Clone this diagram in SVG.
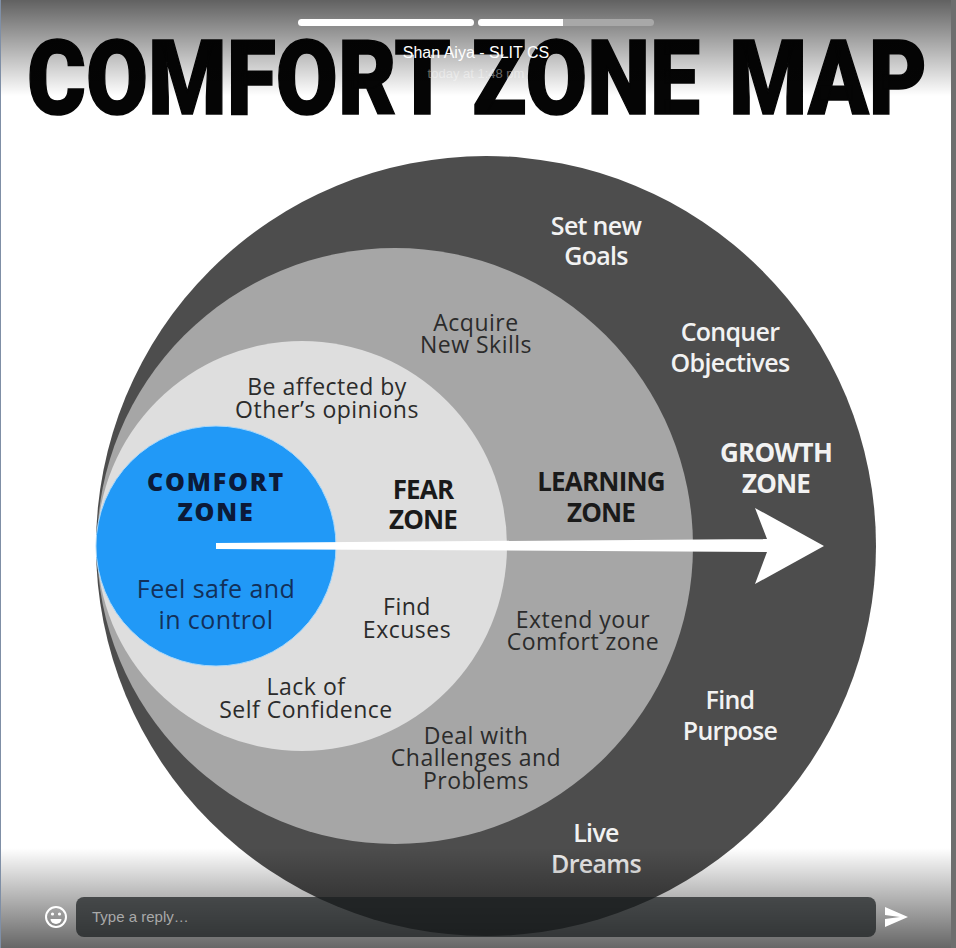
<svg xmlns="http://www.w3.org/2000/svg" width="956" height="948" viewBox="0 0 956 948">
<style>
text{font-family:"Open Sans","Liberation Sans",sans-serif;text-anchor:middle}
.t{font-family:Roboto,"Liberation Sans",Arial,sans-serif;font-weight:900;font-size:104px;fill:#050505;stroke:#050505;stroke-width:1.500px;stroke-linejoin:miter;text-anchor:start}
.d{font-size:23px;fill:#2b2b2b;letter-spacing:.5px}
.w{font-size:25px;fill:#f2f2f2;font-weight:600;letter-spacing:-.7px}
.h{font-size:26px;font-weight:700;letter-spacing:-.8px}
.c{font-size:25px;font-weight:800;letter-spacing:1.800px;fill:#0c1a38}
.f{font-size:25px;fill:#12305a;letter-spacing:.4px}
.ui{font-family:"Liberation Sans",Arial,sans-serif}
</style>
<defs>
<linearGradient id="top" x1="0" y1="0" x2="0" y2="1"><stop offset="0" stop-color="#000" stop-opacity=".62"/><stop offset="1" stop-color="#000" stop-opacity="0"/></linearGradient>
<linearGradient id="bot" x1="0" y1="0" x2="0" y2="1"><stop offset="0" stop-color="#000" stop-opacity="0"/><stop offset="1" stop-color="#000" stop-opacity=".6"/></linearGradient>
</defs>
<rect width="956" height="948" fill="#fff"/>
<text x="27" y="114" class="t" textLength="424" lengthAdjust="spacingAndGlyphs">COMFORT</text>
<text x="472" y="114" class="t" textLength="228" lengthAdjust="spacingAndGlyphs">ZONE</text>
<text x="729" y="114" class="t" textLength="198" lengthAdjust="spacingAndGlyphs">MAP</text>
<g id="growth-zone"><circle cx="486" cy="546" r="390" fill="#4d4d4d"/>
<text class="w" x="596" y="235">Set new</text><text class="w" x="596" y="265">Goals</text>
<text class="w" x="730" y="341">Conquer</text><text class="w" x="730" y="372">Objectives</text>
<text class="h" x="776" y="462" fill="#f2f2f2">GROWTH</text><text class="h" x="776" y="493" fill="#f2f2f2">ZONE</text>
<text class="w" x="730" y="709">Find</text><text class="w" x="730" y="740">Purpose</text>
<text class="w" x="596" y="842">Live</text><text class="w" x="596" y="873">Dreams</text></g>
<g id="learning-zone"><circle cx="395" cy="546" r="298" fill="#a6a6a6"/>
<text class="d" x="476" y="331">Acquire</text><text class="d" x="476" y="353">New Skills</text>
<text class="h" x="601" y="491" fill="#1a1a1a">LEARNING</text><text class="h" x="601" y="522" fill="#1a1a1a">ZONE</text>
<text class="d" x="583" y="628">Extend your</text><text class="d" x="583" y="650">Comfort zone</text>
<text class="d" x="476" y="744">Deal with</text><text class="d" x="476" y="766">Challenges and</text><text class="d" x="476" y="789">Problems</text></g>
<g id="fear-zone"><circle cx="302" cy="546" r="205" fill="#dedede"/>
<text class="d" x="327" y="395">Be affected by</text><text class="d" x="327" y="418">Other’s opinions</text>
<text class="h" x="423" y="499" fill="#1a1a1a">FEAR</text><text class="h" x="423" y="529" fill="#1a1a1a">ZONE</text>
<text class="d" x="407" y="615">Find</text><text class="d" x="407" y="638">Excuses</text>
<text class="d" x="306" y="695">Lack of</text><text class="d" x="306" y="718">Self Confidence</text></g>
<g id="comfort-zone"><circle cx="216" cy="546" r="120" fill="#2199f7" stroke="#a8d8fb" stroke-width="1"/>
<text class="c" x="216" y="491">COMFORT</text><text class="c" x="216" y="521">ZONE</text>
<text class="f" x="216" y="598">Feel safe and</text><text class="f" x="216" y="629">in control</text></g>
<g id="connectors"><polygon points="216,543 767,539 755,508 824,546 755,584 767,552 216,549" fill="#fff"/></g>
<g id="overlay">
<rect width="956" height="96" fill="url(#top)"/>
<rect y="848" width="956" height="100" fill="url(#bot)"/>
<rect x="951" width="5" height="948" fill="#6e6e6e"/>
<rect width="1" height="948" fill="#7f8fa6"/>
<rect x="298" y="19" width="176" height="7" rx="3.5" fill="#fff"/>
<rect x="478" y="19" width="176" height="7" rx="3.5" fill="#a8a8a8"/>
<path d="M481.5 19H563v7H481.5a3.5 3.5 0 0 1 0-7z" fill="#fff"/>
<text class="ui" x="476" y="58" font-size="16" fill="#fff">Shan Aiya - SLIT CS</text>
<text class="ui" x="476" y="78" font-size="13" fill="#fff" fill-opacity=".4">today at 1:48 pm</text>
<rect x="76" y="897" width="800" height="40" rx="8" fill="#1a1e20" fill-opacity=".72"/>
<text class="ui" x="92" y="922" font-size="15" fill="#a9a9a9" style="text-anchor:start">Type a reply…</text>
<g id="emoji"><circle cx="56" cy="917" r="10" fill="none" stroke="#fff" stroke-width="2"/><circle cx="52.500" cy="914" r="1.600" fill="#fff"/><circle cx="59.500" cy="914" r="1.600" fill="#fff"/><path d="M50.500 919h11a5.500 5 0 0 1-11 0z" fill="#fff"/></g>
<path id="send" d="M885 907l23 10-23 10v-8l15-2-15-2z" fill="#fff"/>
</g>
</svg>
